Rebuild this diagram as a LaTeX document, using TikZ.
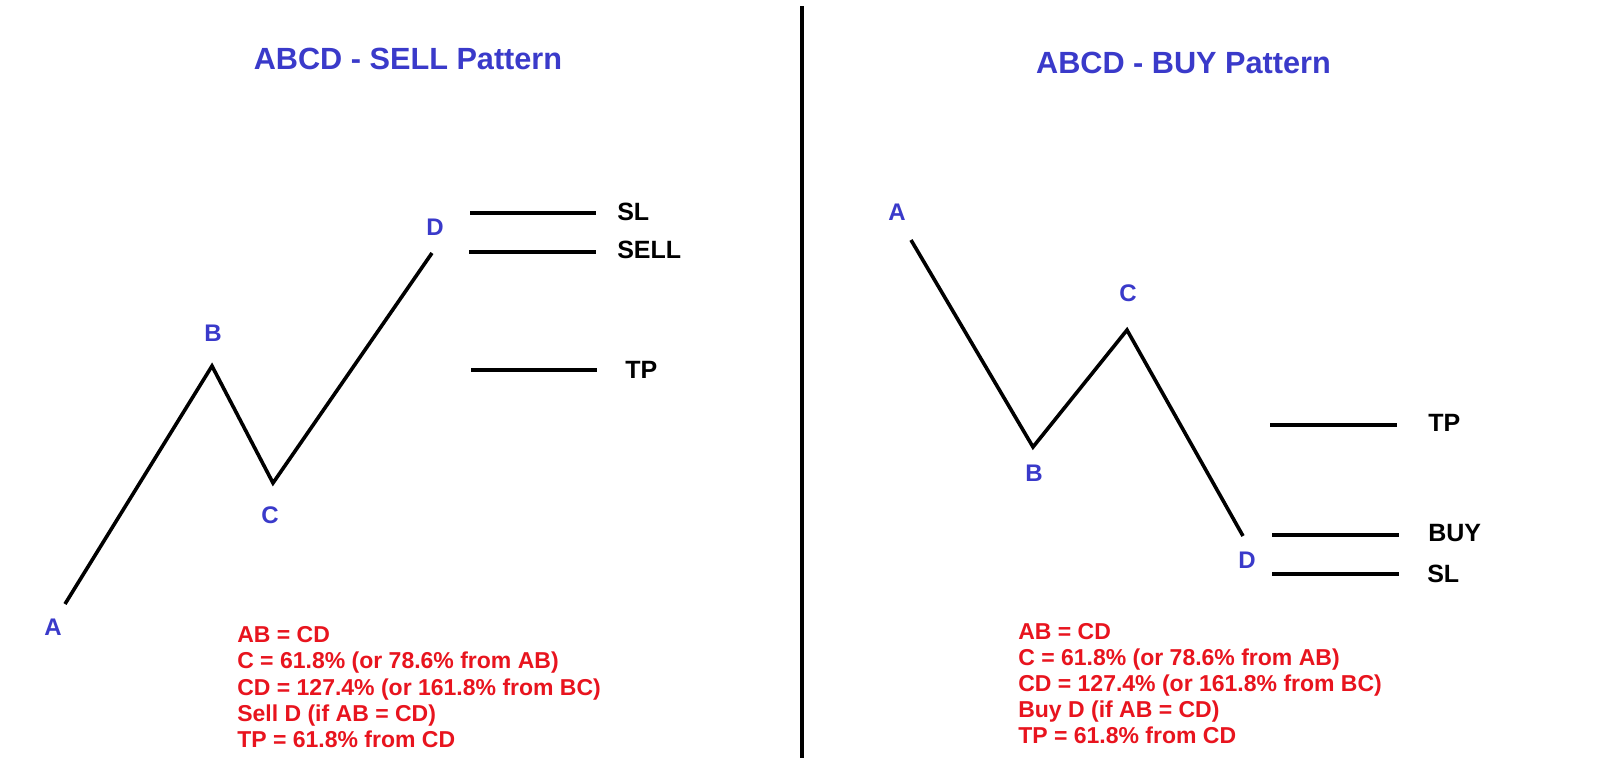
\documentclass[tikz,border=0pt]{standalone}
\usepackage{fontspec}
\setmainfont{Liberation Sans}
\definecolor{ptblue}{RGB}{58,58,202}
\definecolor{ptred}{RGB}{232,20,30}
\begin{document}
\begin{tikzpicture}[x=0.75pt,y=-0.75pt,
  wave/.style={line width=2.7pt,black},
  level/.style={line width=2.7pt,black},
  divider/.style={line width=3pt,black},
  ptlabel/.style={text=ptblue,font=\bfseries\fontsize{18}{21}\selectfont,inner sep=0pt},
  lvllabel/.style={text=black,font=\bfseries\fontsize{18.75}{22}\selectfont,inner sep=0pt,anchor=west},
  title/.style={text=ptblue,font=\bfseries\fontsize{23}{27}\selectfont,inner sep=0pt,anchor=base},
  rule/.style={text=ptred,font=\bfseries\fontsize{17.25}{20}\selectfont,inner sep=0pt,anchor=base west}]
\useasboundingbox[fill=white] (0,0) rectangle (1600,775);

% divider
\coordinate (divT) at (802,6);
\coordinate (divB) at (802,758);
\draw[divider] (divT) -- (divB);

% ---------- SELL pattern ----------
\node[title] (tsell) at (408,69) {ABCD - SELL Pattern};
\coordinate (sA) at (65,604);
\coordinate (sB) at (212,366);
\coordinate (sC) at (273,483);
\coordinate (sD) at (432,253);
\draw[wave] (sA) -- (sB) -- (sC) -- (sD);
\node[ptlabel] (lsA) at (53,627) {A};
\node[ptlabel] (lsB) at (213,333) {B};
\node[ptlabel] (lsC) at (270,515) {C};
\node[ptlabel] (lsD) at (435,227) {D};

\coordinate (slL) at (470,213); \coordinate (slR) at (596,213);
\coordinate (sellL) at (469,252); \coordinate (sellR) at (596,252);
\coordinate (stpL) at (471,370); \coordinate (stpR) at (597,370);
\draw[level] (slL) -- (slR);
\draw[level] (sellL) -- (sellR);
\draw[level] (stpL) -- (stpR);
\node[lvllabel] (tslS) at (617,212) {SL};
\node[lvllabel] (tsell2) at (617,250) {SELL};
\node[lvllabel] (tstp) at (625,370) {TP};

\node[rule] (sr1) at (237,642) {AB = CD};
\node[rule] (sr2) at (237,668.5) {C = 61.8\% (or 78.6\% from AB)};
\node[rule] (sr3) at (237,695) {CD = 127.4\% (or 161.8\% from BC)};
\node[rule] (sr4) at (237,721) {Sell D (if AB = CD)};
\node[rule] (sr5) at (237,747) {TP = 61.8\% from CD};

% ---------- BUY pattern ----------
\node[title] (tbuy) at (1183.5,73) {ABCD - BUY Pattern};
\coordinate (bA) at (911,240);
\coordinate (bB) at (1033,447);
\coordinate (bC) at (1127,330);
\coordinate (bD) at (1243,536);
\draw[wave] (bA) -- (bB) -- (bC) -- (bD);
\node[ptlabel] (lbA) at (897,212) {A};
\node[ptlabel] (lbB) at (1034,473) {B};
\node[ptlabel] (lbC) at (1128,293) {C};
\node[ptlabel] (lbD) at (1247,560) {D};

\coordinate (btpL) at (1270,425); \coordinate (btpR) at (1397,425);
\coordinate (buyL) at (1272,535); \coordinate (buyR) at (1399,535);
\coordinate (bslL) at (1272,574); \coordinate (bslR) at (1399,574);
\draw[level] (btpL) -- (btpR);
\draw[level] (buyL) -- (buyR);
\draw[level] (bslL) -- (bslR);
\node[lvllabel] (tbtp) at (1428,423) {TP};
\node[lvllabel] (tbuy2) at (1428,533) {BUY};
\node[lvllabel] (tbsl) at (1427,574) {SL};

\node[rule] (br1) at (1018,639) {AB = CD};
\node[rule] (br2) at (1018,665) {C = 61.8\% (or 78.6\% from AB)};
\node[rule] (br3) at (1018,691) {CD = 127.4\% (or 161.8\% from BC)};
\node[rule] (br4) at (1018,717) {Buy D (if AB = CD)};
\node[rule] (br5) at (1018,743) {TP = 61.8\% from CD};
\end{tikzpicture}
\end{document}
